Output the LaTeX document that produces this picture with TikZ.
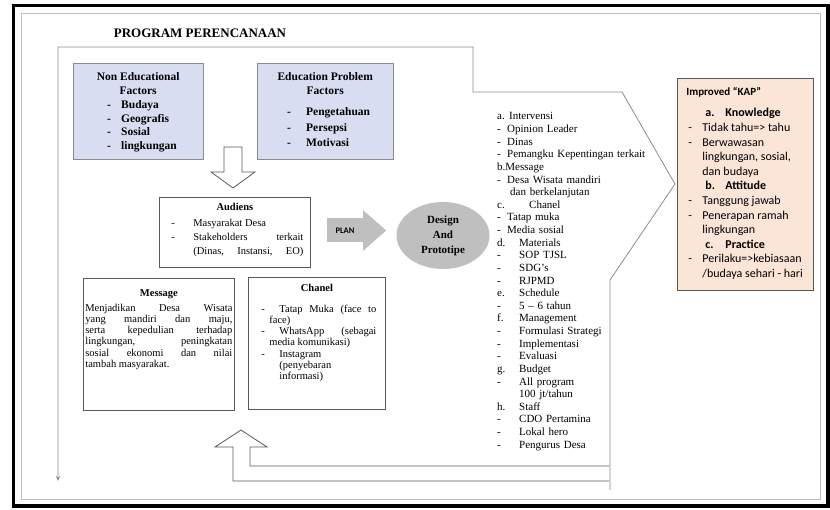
\documentclass[tikz,border=0pt]{standalone}
\usepackage{fontspec}
\setmainfont{Liberation Serif}
\newfontfamily\kapfont{Carlito}
\usetikzlibrary{arrows.meta,shapes.geometric,calc}
\definecolor{boxblue}{RGB}{216,221,241}
\definecolor{kappeach}{RGB}{251,229,214}
\definecolor{framegray}{RGB}{140,140,140}
\definecolor{linegray}{RGB}{90,90,90}
\definecolor{ovalgray}{RGB}{191,191,191}
\setlength{\parindent}{0pt}
\newcommand{\lrow}[3]{\makebox[#1][l]{#2}#3}

\begin{document}
\begin{tikzpicture}[x=1pt, y=-1pt,
    frame/.style={draw=framegray, line width=0.8pt},
    band/.style={draw=linegray, line width=0.8pt, fill=white},
    factor/.style={draw=framegray, fill=boxblue, anchor=north west,
                   inner xsep=0pt, text height=8pt,
                   font=\fontsize{11.5}{13.8}\selectfont\bfseries},
    card/.style={draw=linegray, fill=white, anchor=north west,
                 inner xsep=0pt, text height=8pt, line width=0.8pt},
    kapbox/.style={draw=linegray, fill=kappeach, anchor=north west,
                   inner xsep=0pt, text height=9pt, line width=0.8pt,
                   font=\kapfont\fontsize{12}{14.6}\selectfont},
    oval/.style={ellipse, fill=ovalgray, inner sep=1pt, align=center,
                 font=\fontsize{11}{15}\selectfont\bfseries},
    planbody/.style={fill=ovalgray, inner sep=0pt, minimum width=36pt,
                     minimum height=24pt,
                     font=\kapfont\fontsize{8.5}{10}\selectfont\bfseries}
  ]
  \useasboundingbox (0,0) rectangle (830,510);
  \draw[line width=3.5pt] (13.5,5.5) rectangle (828,506);
  \draw[gray!50] (21,13) rectangle (820,499);

  \node[font=\fontsize{13}{15}\selectfont\bfseries] (judul) at (200,33) {PROGRAM PERENCANAAN};

  % kerangka program
  \draw[band] (609,466) -- (250,466) -- (250,447) -- (267,447) -- (241,430)
    -- (215,447) -- (233,447) -- (233,481) -- (609,481);
  \draw[frame, -{Stealth[length=5pt, width=4pt]}]
    (610,490) -- (610,280) -- (675,184) -- (622,92) -- (473,92)
    -- (473,47) -- (58,47) -- (58,481);

  \node[factor, inner ysep=9.5pt, text depth=69pt] (nonedu) at (73,63) {%
    \parbox[t]{130pt}{%
      {\centering Non Educational\\Factors\par}
      \hspace*{34pt}\lrow{14pt}{-}{Budaya}\\
      \hspace*{34pt}\lrow{14pt}{-}{Geografis}\\
      \hspace*{34pt}\lrow{14pt}{-}{Sosial}\\
      \hspace*{34pt}\lrow{14pt}{-}{lingkungan}}};
  \node[factor, inner ysep=9.5pt, text depth=69pt] (edu) at (257,63) {%
    \parbox[t]{136pt}{%
      {\centering Education Problem\\Factors\par}
      \vspace{6pt}
      \fontsize{11.5}{15.5}\selectfont
      \hspace*{30pt}\lrow{19pt}{-}{Pengetahuan}\\
      \hspace*{30pt}\lrow{19pt}{-}{Persepsi}\\
      \hspace*{30pt}\lrow{19pt}{-}{Motivasi}}};

  \draw[band] (224,147) -- (242,147) -- (242,172) -- (255,172) -- (233,188)
    -- (211,172) -- (224,172) -- cycle;

  \node[card, inner ysep=5pt, text depth=52pt,
        font=\fontsize{10.5}{14}\selectfont] (audiens) at (159,197) {%
    \parbox[t]{151pt}{%
      {\centering\textbf{Audiens}\par}
      \vspace{2pt}
      \hspace*{12pt}\lrow{22pt}{-}{Masyarakat Desa}\\
      \hspace*{12pt}\lrow{22pt}{-}{\makebox[110pt][l]{Stakeholders\hfill terkait}}\\
      \hspace*{34pt}\makebox[110pt][l]{(Dinas,\hfill Instansi,\hfill EO)}}};

  \node[planbody] (plan) at (345,230.5) {PLAN};
  \fill[ovalgray] (plan.north east) -- ++(0,-8) -- ($(plan.east)+(23,0)$)
    -- ($(plan.south east)+(0,8)$) -- (plan.south east) -- cycle;

  \node[oval, minimum width=93pt, minimum height=67pt] (design) at (443,235.5) {Design\\And\\Prototipe};

  \node[card, inner xsep=2pt, inner ysep=10pt, text depth=104pt,
        font=\fontsize{10.5}{11.2}\selectfont] (message) at (83,278) {%
    \parbox[t]{147pt}{%
      {\centering\textbf{Message}\par}
      \vspace{3.8pt}
      \makebox[147pt][l]{Menjadikan\hfill Desa\hfill Wisata}\\
      \makebox[147pt][l]{yang\hfill mandiri\hfill dan\hfill maju,}\\
      \makebox[147pt][l]{serta\hfill kepedulian\hfill terhadap}\\
      \makebox[147pt][l]{lingkungan,\hfill peningkatan}\\
      \makebox[147pt][l]{sosial\hfill ekonomi\hfill dan\hfill nilai}\\
      tambah masyarakat.}};

  \node[card, inner ysep=6pt, text depth=112pt,
        font=\fontsize{10.5}{11.2}\selectfont] (chanel) at (248,277) {%
    \parbox[t]{137pt}{%
      {\centering\textbf{Chanel}\par}
      \vspace{9.8pt}
      \hspace*{13pt}\lrow{18pt}{-}{\makebox[97pt][l]{Tatap\hfill Muka\hfill (face\hfill to}}\\
      \hspace*{21pt}face)\\
      \hspace*{13pt}\lrow{18pt}{-}{\makebox[97pt][l]{WhatsApp\hfill (sebagai}}\\
      \hspace*{21pt}media komunikasi)\\
      \hspace*{13pt}\lrow{18pt}{-}{Instagram}\\
      \hspace*{31pt}(penyebaran\\
      \hspace*{31pt}informasi)}};

  % rincian rencana
  \node[anchor=base west, inner sep=0pt, text width=150pt,
        font=\fontsize{11}{12.62}\selectfont] (rincian) at (497,120) {%
    \raggedright
    \lrow{12pt}{a.}{Intervensi}\\
    \lrow{10pt}{-}{Opinion Leader}\\
    \lrow{10pt}{-}{Dinas}\\
    \lrow{10pt}{-}{Pemangku Kepentingan terkait}\\
    b.Message\\
    \lrow{10pt}{-}{Desa Wisata mandiri}\\
    \hspace*{13pt}dan berkelanjutan\\
    \lrow{32pt}{c.}{Chanel}\\
    \lrow{10pt}{-}{Tatap muka}\\
    \lrow{10pt}{-}{Media sosial}\\
    \lrow{22pt}{d.}{Materials}\\
    \lrow{22pt}{-}{SOP TJSL}\\
    \lrow{22pt}{-}{SDG's}\\
    \lrow{22pt}{-}{RJPMD}\\
    \lrow{22pt}{e.}{Schedule}\\
    \lrow{22pt}{-}{5 – 6 tahun}\\
    \lrow{22pt}{f.}{Management}\\
    \lrow{22pt}{-}{Formulasi Strategi}\\
    \lrow{22pt}{-}{Implementasi}\\
    \lrow{22pt}{-}{Evaluasi}\\
    \lrow{22pt}{g.}{Budget}\\
    \lrow{22pt}{-}{All program}\\
    \hspace*{22pt}100 jt/tahun\\
    \lrow{22pt}{h.}{Staff}\\
    \lrow{22pt}{-}{CDO Pertamina}\\
    \lrow{22pt}{-}{Lokal hero}\\
    \lrow{22pt}{-}{Pengurus Desa}};

  \node[kapbox, inner ysep=8pt, text depth=187pt] (kap) at (677,78) {%
    \parbox[t]{136pt}{%
      {\fontsize{11}{13}\selectfont\hspace*{9pt}\textbf{Improved “KAP”}\par}
      \vspace{7pt}
      \hspace*{28pt}\lrow{20pt}{\textbf{a.}}{\textbf{Knowledge}}\\
      \hspace*{11pt}\lrow{14pt}{-}{Tidak tahu=> tahu}\\
      \hspace*{11pt}\lrow{14pt}{-}{Berwawasan}\\
      \hspace*{25pt}lingkungan, sosial,\\
      \hspace*{25pt}dan budaya\\
      \hspace*{28pt}\lrow{20pt}{\textbf{b.}}{\textbf{Attitude}}\\
      \hspace*{11pt}\lrow{14pt}{-}{Tanggung jawab}\\
      \hspace*{11pt}\lrow{14pt}{-}{Penerapan ramah}\\
      \hspace*{25pt}lingkungan\\
      \hspace*{28pt}\lrow{20pt}{\textbf{c.}}{\textbf{Practice}}\\
      \hspace*{11pt}\lrow{14pt}{-}{Perilaku=>kebiasaan}\\
      \hspace*{25pt}/budaya sehari - hari}};
\end{tikzpicture}
\end{document}
